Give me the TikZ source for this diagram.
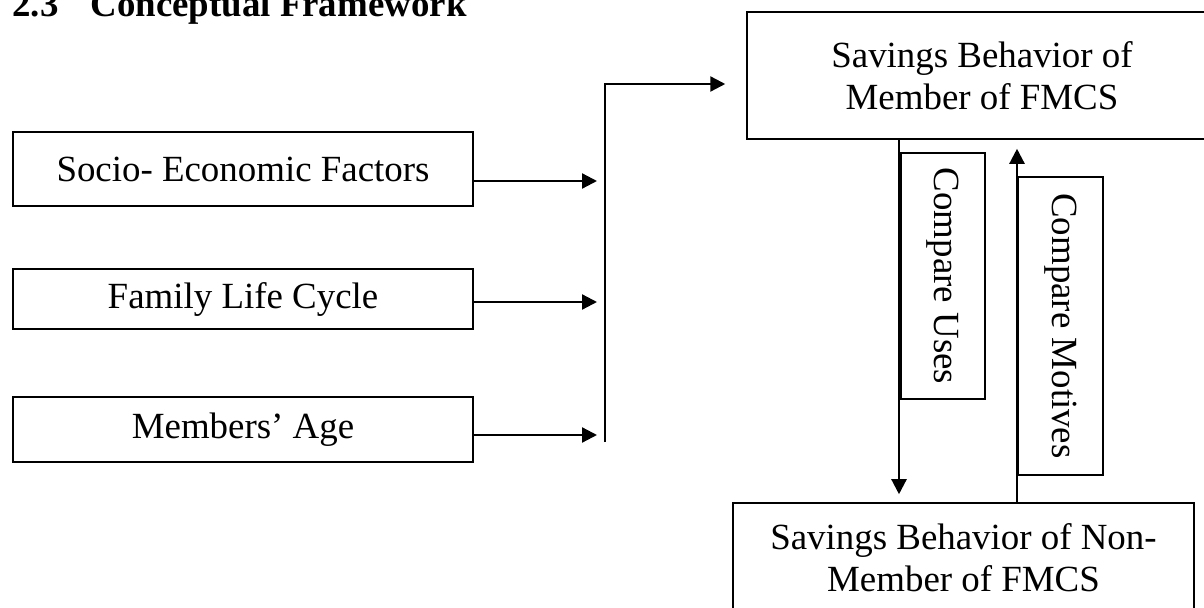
\documentclass[tikz,border=0pt]{standalone}
\usepackage{fontspec}
\setmainfont{Liberation Serif}
\usetikzlibrary{arrows.meta,positioning}

\begin{document}
\begin{tikzpicture}[x=0.02cm,y=-0.02cm,
box/.style={draw,line width=0.9pt,font=\fontsize{21}{24}\selectfont,align=center,inner sep=0pt},
vbox/.style={box,rotate=-90},
arr/.style={line width=1.3pt,-{Triangle[length=0.3cm,width=0.3cm]}}]
\useasboundingbox (0,0) rectangle (1204,608);
\clip (0,0) rectangle (1204,608);
\node[anchor=base west,inner sep=0pt,font=\fontsize{21}{24}\selectfont\bfseries] (title) at (12,17) {2.3\hspace{0.64cm}Conceptual Framework};
% factors
\node[box,minimum width=9.2cm,minimum height=1.48cm] (socio) at (243,169) {Socio- Economic Factors};
\node[box,minimum width=9.2cm,minimum height=1.2cm] (family) at (243,299) {Family Life Cycle};
\node[box,minimum width=9.2cm,minimum height=1.3cm] (age) at (243,429.5) {Members' Age};
% savings behaviour
\node[box,minimum width=9.4cm,minimum height=2.54cm] (member) at (982,75.5) {Savings Behavior of\\Member of FMCS};
\node[box,minimum width=9.22cm,minimum height=2.18cm] (nonmember) at (963.5,557.5) {Savings Behavior of Non-\\Member of FMCS};
\node[vbox,minimum width=4.92cm,minimum height=1.68cm] (uses) at (943,276) {Compare Uses};
\node[vbox,minimum width=5.96cm,minimum height=1.7cm] (motives) at (1060.5,326) {Compare Motives};
\coordinate (bus) at (605,442);
\coordinate (bustop) at (605,84);
\coordinate (down) at (899,0);
\coordinate (up) at (1017,0);
% connectors
\draw[arr,shorten >=0.16cm] ([yshift=-0.24cm]socio.east) -- ([yshift=-0.24cm]socio.east -| bus);
\draw[arr,shorten >=0.16cm] ([yshift=-0.06cm]family.east) -- ([yshift=-0.06cm]family.east -| bus);
\draw[arr,shorten >=0.16cm] ([yshift=-0.11cm]age.east) -- ([yshift=-0.11cm]age.east -| bus);
\draw[arr,shorten >=0.42cm] (bus) -- (bustop) -- (bustop -| member.west);
\draw[arr,shorten >=0.16cm] (member.south -| down) -- (nonmember.north -| down);
\draw[arr,shorten >=0.18cm] (nonmember.north -| up) -- (member.south -| up);
\end{tikzpicture}
\end{document}
